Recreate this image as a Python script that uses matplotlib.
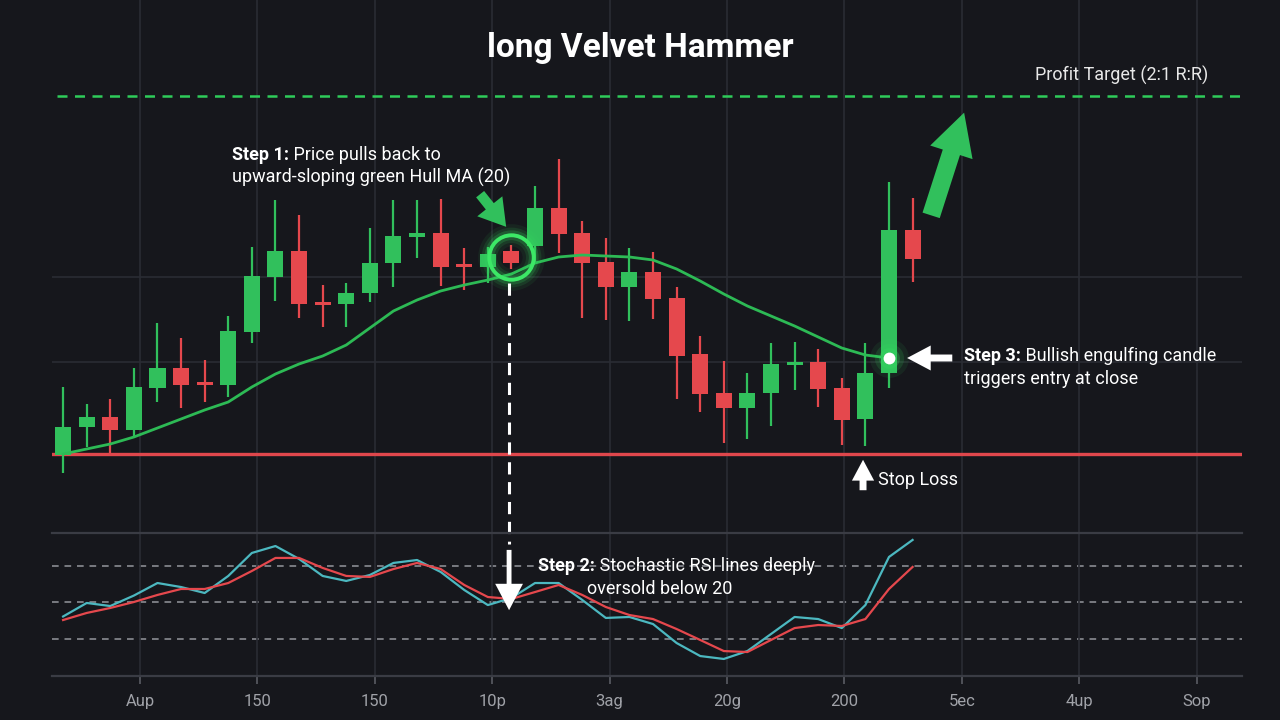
import numpy as np
import matplotlib
matplotlib.use("Agg")
import matplotlib.pyplot as plt

plt.rcParams['font.family'] = ['Roboto', 'DejaVu Sans']

# 配色
bg = '#16171c'
grid_c = '#2a2c33'
green = '#31c05c'
red = '#e5484d'
cyan = '#4cb8c0'
white = '#ffffff'
tick_c = '#a0a2a8'

# 蜡烛数据 (OHLC)
opens = [99.9, 102.7, 103.7, 102.4, 106.6, 108.6, 107.1, 106.9, 112.2, 117.7, 120.3, 115.2, 115.0,
         116.1, 119.1, 121.7, 122.1, 119.0, 118.7, 120.3, 120.8, 124.6, 122.1, 119.2, 116.7, 118.2,
         115.6, 110.0, 106.1, 104.6, 106.1, 108.9, 109.2, 106.6, 103.5, 108.1, 122.4]
highs = [106.7, 105.0, 105.5, 108.6, 113.1, 111.6, 109.4, 113.8, 120.7, 125.4, 123.9, 116.9, 117.1,
         122.6, 125.4, 125.4, 125.5, 120.6, 120.7, 120.9, 126.8, 129.5, 123.3, 121.6, 120.6, 120.2,
         116.7, 111.8, 109.3, 108.1, 111.1, 111.2, 110.5, 107.6, 111.1, 127.2, 125.6]
lows = [98.1, 100.7, 100.1, 101.6, 105.2, 104.6, 105.2, 105.7, 111.1, 115.3, 113.6, 112.7, 112.7,
        115.2, 116.7, 119.6, 116.8, 116.4, 117.1, 118.5, 119.2, 120.1, 113.6, 113.4, 113.3, 113.5,
        105.5, 104.2, 101.1, 101.5, 102.8, 106.4, 104.7, 100.9, 100.8, 106.6, 117.2]
closes = [102.7, 103.7, 102.4, 106.7, 108.6, 106.9, 106.9, 112.3, 117.8, 120.3, 115.0, 114.9, 116.1,
          119.1, 121.8, 122.1, 118.7, 118.7, 120.0, 119.1, 124.6, 122.0, 119.1, 116.7, 118.2, 115.5,
          109.8, 106.0, 104.6, 106.1, 109.0, 109.2, 106.5, 103.4, 108.1, 122.4, 119.5]

hull_ma = [100.0, 100.5, 101.0, 101.7, 102.6, 103.5, 104.4, 105.2, 106.7, 108.0, 109.0, 109.8,
           110.9, 112.6, 114.3, 115.4, 116.3, 116.9, 117.4, 118.0, 119.1, 119.7, 119.9, 119.8,
           119.7, 119.4, 118.5, 117.3, 116.0, 114.8, 113.8, 112.8, 111.7, 110.6, 109.9, 109.6]

stoch_k = [38.5, 49.6, 47.1, 55.7, 66.0, 62.7, 57.8, 71.8, 90.7, 96.4, 85.8, 71.8, 67.7, 72.6,
           82.5, 84.9, 75.1, 60.3, 47.9, 53.7, 66.0, 66.0, 52.1, 37.3, 38.1, 32.3, 16.7, 6.0,
           3.6, 10.1, 24.1, 38.1, 36.4, 29.0, 47.9, 87.4, 101.4]
stoch_d = [35.6, 41.4, 45.5, 50.4, 56.2, 61.1, 61.1, 66.0, 75.9, 86.6, 86.6, 78.4, 71.8, 71.0,
           77.5, 82.5, 77.5, 64.4, 54.5, 52.9, 58.6, 64.4, 56.2, 46.3, 39.7, 36.4, 28.2, 19.2,
           10.1, 9.3, 19.2, 29.0, 31.5, 30.7, 36.4, 61.1, 79.2]
stoch_levels = [20, 50, 80]

tick_labels = ['Aup', '150', '150', '10p', '3ag', '20g', '200', '5ec', '4up', 'Sop']
stop_loss = 100.0
profit_target = 135.8
price_grid = [109.2, 117.7]
pullback_idx = 19
entry_idx = 35

W, H = 1280, 720
fig = plt.figure(figsize=(W / 100, H / 100), dpi=100, facecolor=bg)
ax = fig.add_axes([52 / W, 1 - 533 / H, 1190 / W, 533 / H], facecolor=bg)
ax2 = fig.add_axes([52 / W, 1 - 676 / H, 1190 / W, 143 / H], sharex=ax)
ax2.patch.set_visible(False)

xs = np.arange(len(opens))
tick_pos = 3.26 + 4.975 * np.arange(len(tick_labels))

# ---- 主图 ----
ax.set_xlim(-0.47, 49.96)
ax.set_ylim(92.1, 145.4)
ax.set_xticks(tick_pos)
ax.set_yticks(price_grid)
ax.grid(True, color=grid_c, lw=1.2)
ax.tick_params(left=False, bottom=False, labelleft=False, labelbottom=False)
for s in ax.spines.values():
    s.set_visible(False)

o, h, l, c = map(np.array, (opens, highs, lows, closes))
cols = [green if cc >= oo else red for oo, cc in zip(o, c)]
ax.vlines(xs, l, h, colors=cols, lw=1.6, zorder=3)
body = np.maximum(np.abs(c - o), 0.3)
ax.bar(xs, body, bottom=np.minimum(o, c), width=0.68, color=cols, zorder=4)

ax.axhline(stop_loss, color='#e0474c', lw=2.4, zorder=2)
ax.axhline(profit_target, xmin=0.004, color='#2ecc5a', lw=1.8, ls=(0, (4, 3)), zorder=2)

ax.plot(xs[:len(hull_ma)], hull_ma, color='#2dba55', lw=2.0, zorder=5, solid_joinstyle='round')

# 回调圆圈 (glow)
cx, cy = pullback_idx, 119.7
for mew, a in [(16, 0.07), (11, 0.12), (7, 0.2)]:
    ax.plot(cx, cy, 'o', ms=32, mfc='none', mec='#35e060', mew=mew, alpha=a, zorder=6)
ax.plot(cx, cy, 'o', ms=32, mfc='none', mec='#3ce866', mew=2.8, zorder=7)

# 入场点 (glow)
ey = hull_ma[entry_idx]
for ms, a in [(28, 0.08), (21, 0.14), (15, 0.25)]:
    ax.plot(entry_idx, ey, 'o', ms=ms, color='#35e060', alpha=a, mew=0, zorder=6)
ax.plot(entry_idx, ey, 'o', ms=8.5, color=white, mew=0, zorder=8)

# 箭头
ax.annotate('', xy=(18.85, 122.5), xytext=(17.6, 126.2),
            arrowprops=dict(arrowstyle='simple,head_length=0.9,head_width=1.1,tail_width=0.35',
                            mutation_scale=21, color=green, lw=0), zorder=8)
ax.annotate('', xy=(38.22, 134.4), xytext=(36.75, 123.6),
            arrowprops=dict(arrowstyle='simple,head_length=1.5,head_width=1.6,tail_width=0.65',
                            mutation_scale=20, color=green, lw=0), zorder=8)
ax.annotate('', xy=(35.65, ey), xytext=(37.8, ey),
            arrowprops=dict(arrowstyle='simple,head_length=1.7,head_width=1.8,tail_width=0.5',
                            mutation_scale=10, color=white, lw=0), zorder=8)
ax.annotate('', xy=(33.9, 99.7), xytext=(33.9, 96.1),
            arrowprops=dict(arrowstyle='simple,head_length=1.5,head_width=1.6,tail_width=0.5',
                            mutation_scale=10, color=white, lw=0), zorder=8, annotation_clip=False)

# 竖直虚线
ax.plot([pullback_idx - 0.1] * 2, [117.1, 91.0], color=white, lw=2.2, ls=(0, (4, 2.5)),
        clip_on=False, zorder=8)

# ---- 副图: Stochastic RSI ----
ax2.set_ylim(-10.4, 107.1)
ax2.set_yticks([])
ax2.set_xticks(tick_pos)
ax2.set_xticklabels(tick_labels)
ax2.grid(True, axis='x', color=grid_c, lw=1.2)
ax2.tick_params(axis='x', colors='#5a5c63', labelcolor=tick_c, length=6, width=1.2,
                labelsize=12, pad=7)
for k in ['left', 'right']:
    ax2.spines[k].set_visible(False)
for k in ['top', 'bottom']:
    ax2.spines[k].set_color('#3a3c44')
    ax2.spines[k].set_linewidth(1.6)
for lv in stoch_levels:
    ax2.axhline(lv, color='#8a8c92', lw=1.2, ls=(0, (4, 3.5)), zorder=1)
ax2.plot(xs, stoch_k, color=cyan, lw=1.6, zorder=3)
ax2.plot(xs, stoch_d, color=red, lw=1.6, zorder=3)
ax2.annotate('', xy=(pullback_idx - 0.1, 41.4), xytext=(pullback_idx - 0.1, 95.5),
             arrowprops=dict(arrowstyle='simple,head_length=1.9,head_width=2.0,tail_width=0.35',
                             mutation_scale=10, color=white, lw=0), zorder=8)

# ---- 文本 ----
fs = 13


def step_text(a, x, y, bold, rest):
    t = fig.text(x / W, 1 - y / H, bold, weight='bold', color=white, fontsize=fs, va='bottom')
    a.annotate(rest, xy=(1, 0), xycoords=t, va='bottom', ha='left', color=white,
               fontsize=fs, annotation_clip=False, zorder=10)


fig.text(0.5, 1 - 48 / H, 'long Velvet Hammer', ha='center', va='center', fontsize=24,
         weight='bold', color=white)
step_text(ax, 232, 164, 'Step 1:', ' Price pulls back to')
fig.text(232 / W, 1 - 187 / H, 'upward-sloping green Hull MA (20)', color=white, fontsize=fs,
         va='bottom')
step_text(ax2, 538, 575, 'Step 2:', ' Stochastic RSI lines deeply')
fig.text(587 / W, 1 - 598 / H, 'oversold below 20', color=white, fontsize=fs, va='bottom')
step_text(ax, 964, 365, 'Step 3:', ' Bullish engulfing candle')
fig.text(964 / W, 1 - 388 / H, 'triggers entry at close', color=white, fontsize=fs, va='bottom')
fig.text(878 / W, 1 - 480 / H, 'Stop Loss', color=white, fontsize=fs, va='center')
fig.text(1035 / W, 1 - 75 / H, 'Profit Target (2:1 R:R)', color='#e8e8e8', fontsize=fs,
         va='center')

fig.savefig('out.png', dpi=100, facecolor=bg)
